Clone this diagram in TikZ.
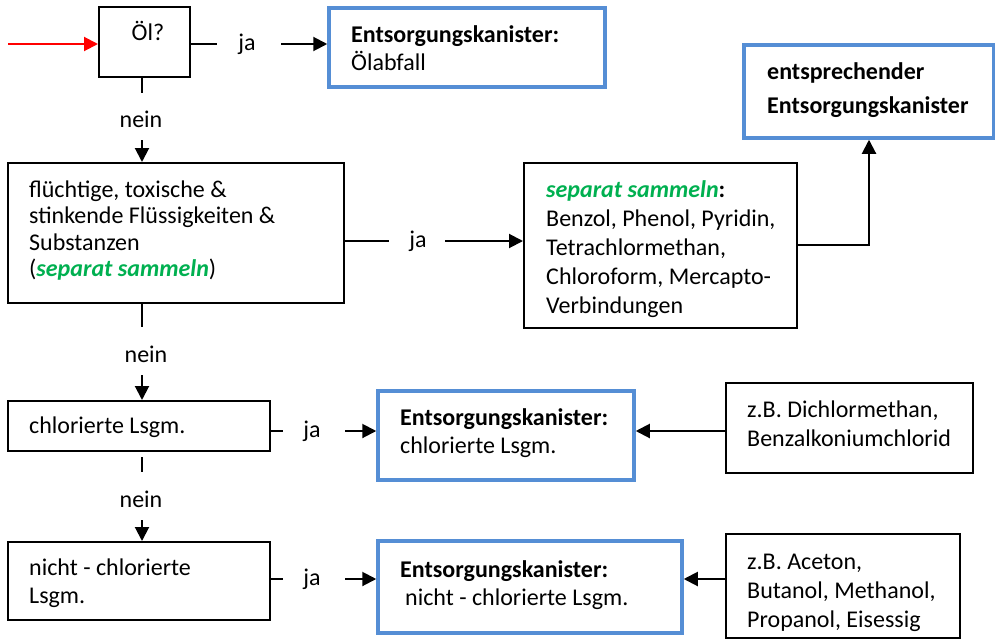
\documentclass[tikz,border=0pt]{standalone}
\usepackage{fontspec}
\setmainfont{Carlito}
\usetikzlibrary{arrows.meta}
\definecolor{kblue}{RGB}{85,142,213}
\definecolor{kgreen}{RGB}{0,176,80}
\newcommand{\sep}[1]{\textcolor{kgreen}{\textbf{\textit{#1}}}}
\begin{document}
\begin{tikzpicture}[x=1pt,y=-1pt,
  kbox/.style 2 args={draw=black, line width=2pt, inner sep=0pt, minimum width=#1, minimum height=#2},
  bbox/.style 2 args={draw=kblue, line width=3.5pt, inner sep=0pt, minimum width=#1, minimum height=#2},
  txt/.style={anchor=base west, inner sep=0pt, align=left},
  lbl/.style={anchor=base, inner sep=0pt, font=\fontsize{24}{28}\selectfont},
  conn/.style={line width=2pt},
  arr/.style={line width=2pt, -{Triangle[length=14pt,width=14pt]}},
]
\useasboundingbox (0,0) rectangle (995,640);
% boxes
\node[kbox={91pt}{70pt}]  (oel)    at (144.5,42)  {};
\node[bbox={276pt}{79pt}] (abfall) at (467,47.5)  {};
\node[kbox={336pt}{140pt}] (fl)    at (176,233)   {};
\node[kbox={273pt}{165pt}] (sepb)  at (660.5,245.5) {};
\node[bbox={250pt}{93pt}] (entspr) at (869,91.5)  {};
\node[kbox={262pt}{50pt}] (chl)    at (139,426)   {};
\node[bbox={256pt}{89pt}] (bchl)   at (506,435.5) {};
\node[kbox={247pt}{90pt}] (dichl)  at (849.5,428) {};
\node[kbox={262pt}{78pt}] (nchl)   at (139,581)   {};
\node[bbox={304pt}{92pt}] (bnchl)  at (530,587)   {};
\node[kbox={234pt}{104pt}] (acet)  at (843,586)   {};
% texts (anchored at the baseline of their last line)
\node[lbl] (toel) at (148,40) {Öl?};
\node[txt, font=\fontsize{24}{28}\selectfont] (tabf) at (351,70) {\textbf{Entsorgungskanister:}\\Ölabfall};
\node[txt, font=\fontsize{24}{26.5}\selectfont] (tfl) at (29,276.5) {flüchtige, toxische \&\\stinkende Flüssigkeiten \&\\Substanzen\\(\sep{separat sammeln})};
\node[txt, font=\fontsize{24}{29}\selectfont] (tsep) at (546,313) {\sep{separat sammeln}\textbf{:}\\Benzol, Phenol, Pyridin,\\Tetrachlormethan,\\Chloroform, Mercapto-\\Verbindungen};
\node[txt, font=\fontsize{24}{34}\selectfont] (tent) at (767,113) {\textbf{entsprechender}\\\textbf{Entsorgungskanister}};
\node[txt, font=\fontsize{24}{28}\selectfont] (tchl) at (29,433) {chlorierte Lsgm.};
\node[txt, font=\fontsize{24}{28}\selectfont] (tbchl) at (400,453) {\textbf{Entsorgungskanister:}\\chlorierte Lsgm.};
\node[txt, font=\fontsize{24}{29}\selectfont] (tdichl) at (747,446) {z.B. Dichlormethan,\\Benzalkoniumchlorid};
\node[txt, font=\fontsize{24}{28}\selectfont] (tnchl) at (29,603) {nicht - chlorierte\\Lsgm.};
\node[txt, font=\fontsize{24}{28}\selectfont] (tbnchl) at (400,605) {\textbf{Entsorgungskanister:}\\\hspace*{5pt}nicht - chlorierte Lsgm.};
\node[txt, font=\fontsize{24}{29}\selectfont] (tacet) at (747,627) {z.B. Aceton,\\Butanol, Methanol,\\Propanol, Eisessig};
% labels
\node[lbl] (ja1) at (247,50) {ja};
\node[lbl] (ja2) at (418,247) {ja};
\node[lbl] (ja3) at (312,437) {ja};
\node[lbl] (ja4) at (312,585) {ja};
\node[lbl] (nein1) at (141,127) {nein};
\node[lbl] (nein2) at (146,362) {nein};
\node[lbl] (nein3) at (141,507) {nein};
% connectors
\coordinate (start) at (8,44);
\draw[arr, red] (start) -- (start -| oel.west);
\draw[conn] (oel.east |- start) -- (217,44);
\draw[arr] (281,44) -- (abfall.west |- start);
\draw[conn] (oel.south -| 142,0) -- (142,93);
\draw[arr] (142,140) -- (fl.north -| 142,0);
\draw[conn] (fl.east |- 0,241) -- (389,241);
\draw[arr] (445,241) -- (sepb.west |- 0,241);
\draw[arr] (sepb.east |- 0,245) -| (entspr.south);
\draw[conn] (fl.south -| 142,0) -- (142,327);
\draw[arr] (142,375) -- (chl.north -| 142,0);
\draw[conn] (chl.east |- 0,431) -- (283,431);
\draw[arr] (345,431) -- (bchl.west |- 0,431);
\draw[arr] (dichl.west |- 0,431) -- (bchl.east |- 0,431);
\draw[conn] (142,457) -- (142,472);
\draw[arr] (142,520) -- (nchl.north -| 142,0);
\draw[conn] (nchl.east |- 0,579) -- (283,579);
\draw[arr] (345,579) -- (bnchl.west |- 0,579);
\draw[arr] (acet.west |- 0,579) -- (bnchl.east |- 0,579);
\end{tikzpicture}
\end{document}
